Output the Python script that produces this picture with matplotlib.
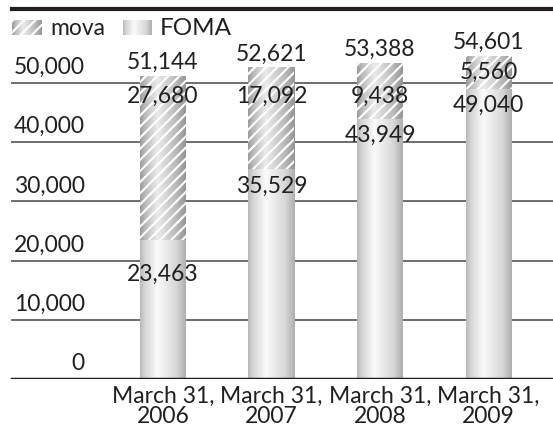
import numpy as np
import matplotlib
matplotlib.use('Agg')
import matplotlib.pyplot as plt
from matplotlib.patches import Rectangle

plt.rcParams['font.family'] = ['Lato', 'DejaVu Sans']
plt.rcParams['hatch.linewidth'] = 1.5

# data
dates = ['March 31,\n2006', 'March 31,\n2007', 'March 31,\n2008', 'March 31,\n2009']
foma = [23463, 35529, 43949, 49040]
mova = [27680, 17092, 9438, 5560]
totals = [51144, 52621, 53388, 54601]
yticks = [0, 10000, 20000, 30000, 40000, 50000]

# where the inner labels sit (baseline, data units)
mova_label_y = [46620, 46620, 46620, 50680]
foma_label_y = [16550, 31420, 40030, 45100]

W, H = 553, 426
TXT = '#231f20'
FS = 16.5

fig = plt.figure(figsize=(W / 100, H / 100), dpi=100)
# plot area: 0 at y=379px, 10,000 = 59.2px, top rule at y=8.5px
ax = fig.add_axes([0, (H - 379) / H, 1, (379 - 8.5) / H])
ax.set_xlim(-163 / 108.5, (W - 163) / 108.5)
ax.set_ylim(0, (379 - 8.5) / 0.00592)
ax.axis('off')

x0 = 12 / W
for v in yticks[1:]:
    ax.axhline(v, xmin=x0, xmax=1, color='#6e6e6e', lw=1.4, zorder=1)
ax.axhline(0, xmin=x0, xmax=1, color=TXT, lw=2.5, zorder=5)
ax.axhline(ax.get_ylim()[1], xmin=x0, xmax=1, color=TXT, lw=3, zorder=5,
           clip_on=False)

for v in yticks:
    ax.annotate(f'{v:,}', xy=(85 / W, v), xycoords=ax.get_yaxis_transform(),
                xytext=(0, 6.5), textcoords='offset points',
                ha='right', va='baseline', fontsize=FS, color=TXT)


def profile(pts, vals, n=200):
    t = np.linspace(0, 1, n)
    return np.interp(t, pts, vals)[None, :]


foma_grad = profile([0, 0.1, 0.38, 0.8, 1], [0.72, 0.83, 0.98, 0.84, 0.68])
mova_grad = profile([0, 0.1, 0.38, 0.8, 1], [0.60, 0.72, 0.92, 0.72, 0.58])

bw = 46 / 108.5
for i in range(len(dates)):
    left = i - bw / 2
    ax.imshow(foma_grad, cmap='gray', vmin=0, vmax=1, aspect='auto',
              extent=(left, left + bw, 0, foma[i]), zorder=2,
              interpolation='bilinear')
    ax.imshow(mova_grad, cmap='gray', vmin=0, vmax=1, aspect='auto',
              extent=(left, left + bw, foma[i], foma[i] + mova[i]), zorder=2,
              interpolation='bilinear')
    ax.add_patch(Rectangle((left, foma[i]), bw, mova[i], facecolor='none',
                           edgecolor='white', hatch='///', lw=0, zorder=3))

    ax.annotate(f'{totals[i]:,}', xy=(i, foma[i] + mova[i]), xytext=(0, 5),
                textcoords='offset points', ha='center', va='baseline',
                fontsize=FS, color=TXT, zorder=6)
    ax.text(i, mova_label_y[i], f'{mova[i]:,}', ha='center', va='baseline',
            fontsize=FS, color=TXT, zorder=6)
    ax.text(i, foma_label_y[i], f'{foma[i]:,}', ha='center', va='baseline',
            fontsize=FS, color=TXT, zorder=6)
    ax.annotate(dates[i], xy=(i, 0), xytext=(0, -5), textcoords='offset points',
                ha='center', va='top', fontsize=FS, color=TXT,
                linespacing=0.95, annotation_clip=False)

# legend, drawn in pixel coordinates
lg = fig.add_axes([0, 0, 1, 1], zorder=10)
lg.axis('off')
lg.imshow(mova_grad, cmap='gray', vmin=0, vmax=1, aspect='auto',
          extent=(12, 42, 35, 20), interpolation='bilinear')
lg.add_patch(Rectangle((12, 20), 30, 15, facecolor='none', edgecolor='white',
                       hatch='///', lw=0))
lg.text(50, 35, 'mova', fontsize=FS, color=TXT, va='baseline')
lg.imshow(foma_grad, cmap='gray', vmin=0, vmax=1, aspect='auto',
          extent=(123, 152, 35, 20), interpolation='bilinear')
lg.text(160, 35, 'FOMA', fontsize=FS + 1, color=TXT, va='baseline')
lg.set_xlim(0, W)
lg.set_ylim(H, 0)

fig.savefig('out.png', dpi=100)
